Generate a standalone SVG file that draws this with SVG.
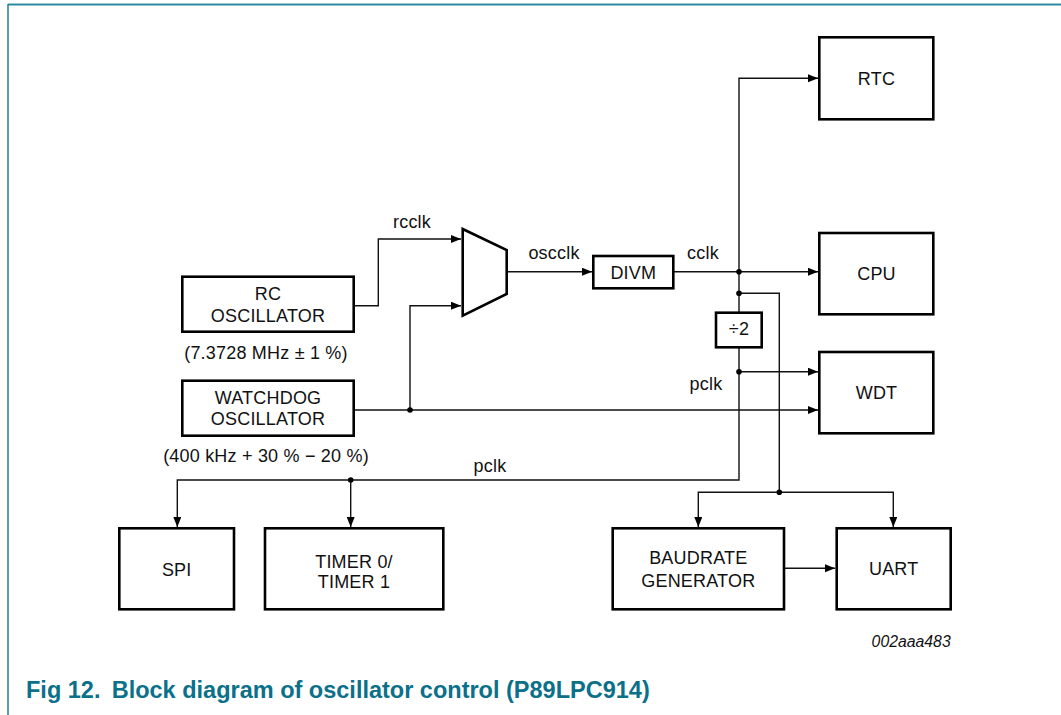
<svg xmlns="http://www.w3.org/2000/svg" width="1061" height="715" viewBox="0 0 1061 715">
<defs>
<marker id="arr" markerUnits="userSpaceOnUse" markerWidth="11" markerHeight="9" refX="10" refY="4" orient="auto">
<path d="M0,0 L10,4 L0,8 z" fill="#000"/>
</marker>
<style>
.box{fill:#fff;stroke:#000;stroke-width:2.6}
.ln{fill:none;stroke:#111;stroke-width:1.4}
.ar{marker-end:url(#arr)}
.t{font-family:"Liberation Sans",Arial,sans-serif;font-size:18px;letter-spacing:0.2px;fill:#111;text-anchor:middle}
.dot{fill:#000}
</style>
</defs>
<rect width="1061" height="715" fill="#fff"/>
<line x1="8" y1="3.5" x2="1061" y2="3.5" stroke="#9cc8d3" stroke-width="1"/>
<line x1="8" y1="4.8" x2="1061" y2="4.8" stroke="#2a8aa0" stroke-width="1.4"/>
<line x1="8" y1="4" x2="8" y2="715" stroke="#1f7f95" stroke-width="1.5"/>

<g id="connectors">
<path class="ln ar" d="M353.7,305.7 H378.3 V239 H461"/>
<path class="ln ar" d="M410,410 V305.7 H461"/>
<path class="ln ar" d="M353.7,410 H818"/>
<path class="ln ar" d="M506.7,271.7 H592"/>
<path class="ln ar" d="M673.3,271.7 H818"/>
<path class="ln ar" d="M739,271.7 V78.3 H818"/>
<path class="ln ar" d="M739,271.7 V480 H177.3 V527"/>
<path class="ln ar" d="M739,371.7 H818"/>
<path class="ln ar" d="M350.7,480 V527"/>
<path class="ln" d="M739,293.3 H779.3 V492.3"/>
<path class="ln ar" d="M779.3,492.3 H698.3 V527"/>
<path class="ln ar" d="M779.3,492.3 H893.3 V527"/>
<path class="ln ar" d="M784,568.3 H835"/>
<circle class="dot" cx="739" cy="271.7" r="2.8"/>
<circle class="dot" cx="739" cy="293.3" r="2.8"/>
<circle class="dot" cx="739" cy="371.7" r="2.8"/>
<circle class="dot" cx="410" cy="410" r="2.8"/>
<circle class="dot" cx="350.7" cy="480" r="2.8"/>
<circle class="dot" cx="779.3" cy="492.3" r="2.8"/>
<text class="t" x="412" y="228">rcclk</text>
<text class="t" x="554" y="259">oscclk</text>
<text class="t" x="703" y="259">cclk</text>
<text class="t" x="706" y="390">pclk</text>
<text class="t" x="490" y="472">pclk</text>
</g>

<g id="rc-osc">
<rect class="box" x="182.3" y="276.7" width="171.4" height="55"/>
<text class="t" x="268" y="300">RC</text>
<text class="t" x="268" y="321.7">OSCILLATOR</text>
<text class="t" x="266" y="359">(7.3728 MHz ± 1 %)</text>
</g>

<g id="wd-osc">
<rect class="box" x="182.3" y="380.7" width="171.4" height="55"/>
<text class="t" x="268" y="404.3">WATCHDOG</text>
<text class="t" x="268" y="425">OSCILLATOR</text>
<text class="t" x="266" y="461.5">(400 kHz + 30 % − 20 %)</text>
</g>

<g id="mux">
<polygon points="462.7,229 506.7,250 506.7,294 462.7,315.7" fill="#fff" stroke="#000" stroke-width="2.6" stroke-linejoin="miter"/>
</g>

<g id="divm">
<rect class="box" x="593.3" y="256" width="80" height="32.3"/>
<text class="t" x="633.3" y="279.3">DIVM</text>
</g>

<g id="div2">
<rect class="box" x="716" y="312.7" width="45.7" height="34.6"/>
<text class="t" x="739" y="335">÷2</text>
</g>

<g id="rtc">
<rect class="box" x="819.3" y="37.3" width="114" height="82"/>
<text class="t" x="876.5" y="85">RTC</text>
</g>

<g id="cpu">
<rect class="box" x="819.3" y="233" width="114" height="81.3"/>
<text class="t" x="876.5" y="280">CPU</text>
</g>

<g id="wdt">
<rect class="box" x="819.3" y="352" width="114" height="81.3"/>
<text class="t" x="876.5" y="399">WDT</text>
</g>

<g id="spi">
<rect class="box" x="119.3" y="528.3" width="114.7" height="81"/>
<text class="t" x="176.7" y="575.5">SPI</text>
</g>

<g id="timer">
<rect class="box" x="265" y="528.3" width="178.3" height="81"/>
<text class="t" x="354" y="568.3">TIMER 0/</text>
<text class="t" x="354" y="587.7">TIMER 1</text>
</g>

<g id="baud">
<rect class="box" x="612.7" y="528.3" width="171.3" height="81"/>
<text class="t" x="698.3" y="564.3">BAUDRATE</text>
<text class="t" x="698.3" y="586.7">GENERATOR</text>
</g>

<g id="uart">
<rect class="box" x="836.7" y="528.3" width="114" height="81"/>
<text class="t" x="893.7" y="575">UART</text>
</g>

<text x="950.7" y="646.7" font-family="Liberation Sans,Arial,sans-serif" font-size="15.8" font-style="italic" fill="#111" text-anchor="end">002aaa483</text>
<text y="697.5" font-family="Liberation Sans,Arial,sans-serif" font-size="23.5" font-weight="bold" fill="#0b7089"><tspan x="26">Fig 12.</tspan><tspan x="111.7">Block diagram of oscillator control (P89LPC914)</tspan></text>
</svg>
